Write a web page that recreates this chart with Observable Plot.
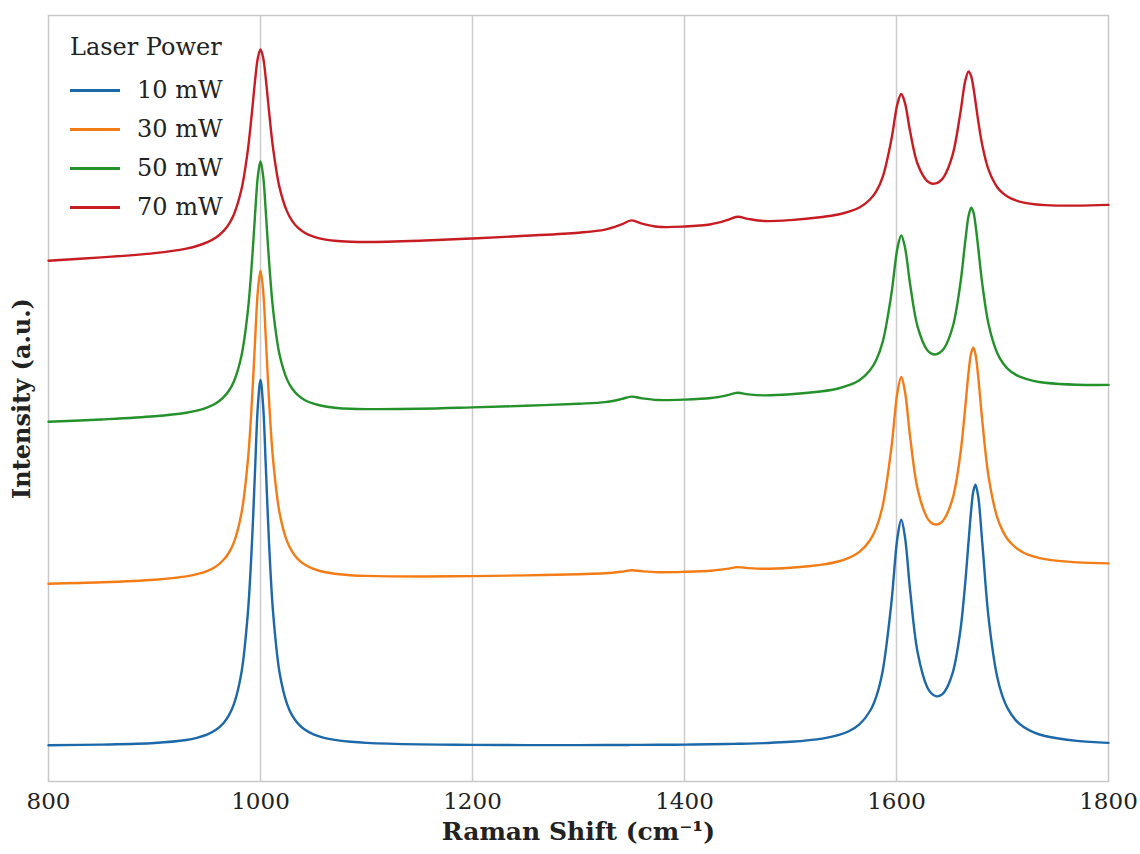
<!DOCTYPE html>
<html>
<head>
<meta charset="utf-8">
<script src="https://cdn.jsdelivr.net/npm/d3@7"></script>
<script src="https://cdn.jsdelivr.net/npm/@observablehq/plot@0.6"></script>
<style>
  html, body { margin: 0; padding: 0; background: #fff; }
  #wrap { position: relative; width: 1140px; height: 854px; }
  #legend { position: absolute; left: 0; top: 0; font-family: "DejaVu Serif", serif; color: #222; }
  #legend .title { position: absolute; left: 70px; top: 33px; font-size: 24px; white-space: nowrap; }
  #legend .item { position: absolute; left: 70px; height: 30px; width: 200px; }
  #legend .sw { position: absolute; left: 0; top: 14px; width: 50px; height: 3px; }
  #legend .lab { position: absolute; left: 67px; top: 0; font-size: 24px; line-height: 30px; white-space: nowrap; }
</style>
</head>
<body>
<div id="wrap"></div>
<script>
// Raman shift grid (cm^-1)
const ramanShift = [
  800, 850, 900, 930, 940, 950, 958, 965, 970, 975, 982, 988, 992, 995, 997.5, 1000,
  1002.5, 1005, 1008, 1012, 1018, 1025, 1030, 1035, 1042, 1050, 1060, 1070, 1085, 1100,
  1150, 1200, 1250, 1300, 1325, 1340, 1350, 1360, 1375, 1400, 1425, 1440, 1450, 1460, 1475, 1500,
  1530, 1545, 1555, 1565, 1575, 1581, 1587, 1595, 1601, 1604.5, 1608, 1613, 1620, 1629, 1633, 1637, 1641, 1645, 1653, 1660, 1665, 1668, 1670.5, 1672.5, 1674.5, 1677, 1681, 1687, 1695, 1700, 1705, 1712, 1720, 1730, 1740, 1770, 1800];

// Intensities (a.u., offset spectra)
const power10 = [
  36.3, 36.9, 38.5, 41.5, 43.7, 47.1, 51.7, 58.3, 65.8, 77.6, 108.8, 167.4, 240.0, 315.3, 375.4, 401.6,
  375.4, 315.3, 240.0, 167.4, 108.8, 77.7, 65.8, 58.4, 51.7, 47.2, 43.7, 41.6, 39.7, 38.6,
  37.1, 36.6, 36.4, 36.4, 36.5, 36.5, 36.6, 36.6, 36.7, 36.9, 37.2, 37.5, 37.7, 37.9, 38.4, 39.7,
  42.9, 46.3, 50.3, 57.1, 70.5, 85.2, 110.8, 176.9, 244.8, 261.8, 244.4, 189.6, 128.7, 94.2, 88.0, 85.3, 85.8, 89.3, 108.7, 149.0, 200.6, 240.2, 272.0, 290.2, 296.7, 285.7, 237.9, 162.3, 104.4, 85.1, 72.8, 61.9, 54.4, 48.9, 45.5, 40.6, 38.6];
const power30 = [
  197.8, 199.2, 201.8, 205.1, 207.3, 210.7, 215.1, 221.5, 228.5, 239.4, 268.0, 320.0, 382.1, 443.4, 490.7, 510.8,
  490.7, 443.6, 382.3, 320.4, 268.6, 240.4, 229.7, 222.7, 216.7, 212.6, 209.5, 207.8, 206.3, 205.6,
  205.0, 205.4, 206.1, 207.3, 208.2, 209.7, 211.2, 210.2, 209.3, 209.7, 210.8, 212.6, 214.4, 213.4, 212.7, 213.8,
  216.9, 220.0, 223.7, 229.6, 241.2, 253.9, 275.8, 332.1, 390.0, 404.5, 389.8, 343.4, 292.1, 263.5, 258.6, 257.0, 258.1, 262.4, 283.1, 325.3, 375.9, 409.1, 428.8, 433.9, 427.2, 405.7, 359.8, 303.9, 264.1, 250.9, 242.0, 234.4, 228.8, 224.9, 222.4, 219.1, 218.1];
const power50 = [
  359.7, 362.0, 365.2, 368.8, 370.9, 374.2, 378.3, 384.2, 390.5, 400.3, 425.5, 469.9, 520.8, 569.2, 605.2, 620.2,
  605.4, 569.6, 521.4, 470.7, 426.7, 402.1, 392.7, 386.6, 381.3, 377.8, 375.2, 373.8, 372.7, 372.4,
  372.7, 374.1, 375.7, 377.8, 379.4, 382.3, 384.9, 383.1, 381.5, 381.9, 383.5, 386.2, 388.7, 387.1, 386.1, 387.2,
  390.2, 393.0, 396.3, 401.3, 411.2, 421.7, 439.7, 486.2, 533.9, 546.0, 534.1, 496.2, 454.4, 431.4, 427.9, 427.1, 428.9, 433.3, 454.5, 496.0, 541.5, 565.4, 573.8, 569.7, 557.0, 534.5, 497.1, 456.6, 428.5, 419.0, 412.7, 407.1, 403.3, 400.4, 398.8, 396.8, 396.6];
const power70 = [
  520.8, 524.1, 528.4, 532.9, 535.5, 539.3, 543.9, 550.3, 557.1, 567.3, 591.9, 630.9, 669.9, 702.1, 723.6, 732.1,
  723.8, 702.7, 670.7, 632.3, 593.9, 570.1, 560.4, 554.1, 548.5, 544.8, 542.1, 540.7, 539.8, 539.5,
  540.8, 543.0, 545.7, 548.8, 551.8, 556.8, 561.1, 557.9, 554.7, 555.0, 557.3, 561.3, 564.7, 562.6, 560.5, 561.4,
  564.5, 567.0, 569.9, 574.0, 582.0, 590.3, 604.6, 640.9, 678.1, 687.5, 678.4, 649.2, 617.3, 600.3, 598.0, 598.1, 600.3, 605.2, 626.8, 666.9, 701.2, 710.1, 705.1, 694.2, 679.9, 661.3, 636.0, 611.3, 594.3, 588.6, 584.8, 581.3, 578.9, 577.3, 576.4, 575.9, 576.6];

const seriesNames = ["10 mW", "30 mW", "50 mW", "70 mW"];
const seriesValues = [power10, power30, power50, power70];
const seriesColors = ["#1c68a8", "#f47c16", "#24912a", "#c61c22"];
const xTicks = [800, 1000, 1200, 1400, 1600, 1800];
const gridTicks = [1000, 1200, 1400, 1600];
const legendTitle = "Laser Power";
const xLabel = "Raman Shift (cm⁻¹)";
const yLabel = "Intensity (a.u.)";

const rows = [];
seriesNames.forEach((name, i) => {
  ramanShift.forEach((x, j) => rows.push({ x, y: seriesValues[i][j], series: name }));
});

const chart = Plot.plot({
  width: 1140,
  height: 854,
  marginTop: 15,
  marginBottom: 73,
  marginLeft: 48,
  marginRight: 32,
  style: { fontFamily: "'DejaVu Serif', serif", fontSize: "22px", background: "#fff", color: "#222" },
  x: { domain: [800, 1800] },
  y: { domain: [0, 766], axis: null },
  color: { domain: seriesNames, range: seriesColors },
  marks: [
    Plot.ruleX(gridTicks, { stroke: "#cccccc", strokeWidth: 1.5 }),
    Plot.frame({ stroke: "#c8c8c8", strokeWidth: 1.5 }),
    Plot.axisX({ ticks: xTicks, tickSize: 0, tickPadding: 11, label: null, fontSize: 23, tickFormat: d => String(d) }),
    Plot.line(rows, { x: "x", y: "y", z: "series", stroke: "series", strokeWidth: 2.4, curve: "catmull-rom" }),
    Plot.text([xLabel], { text: d => d, frameAnchor: "bottom", dy: 58, fontSize: 25, fontWeight: "bold", fill: "#222" }),
    Plot.text([yLabel], { text: d => d, frameAnchor: "left", rotate: -90, dx: -26, textAnchor: "middle", fontSize: 24, fontWeight: "bold", fill: "#222" })
  ]
});

const wrap = document.getElementById("wrap");
wrap.appendChild(chart);

const legend = document.createElement("div");
legend.id = "legend";
const t = document.createElement("div");
t.className = "title";
t.textContent = legendTitle;
legend.appendChild(t);
seriesNames.forEach((name, i) => {
  const item = document.createElement("div");
  item.className = "item";
  item.style.top = (75 + i * 39) + "px";
  const sw = document.createElement("div");
  sw.className = "sw";
  sw.style.background = seriesColors[i];
  const lab = document.createElement("div");
  lab.className = "lab";
  lab.textContent = name;
  item.appendChild(sw);
  item.appendChild(lab);
  legend.appendChild(item);
});
wrap.appendChild(legend);
</script>
</body>
</html>
